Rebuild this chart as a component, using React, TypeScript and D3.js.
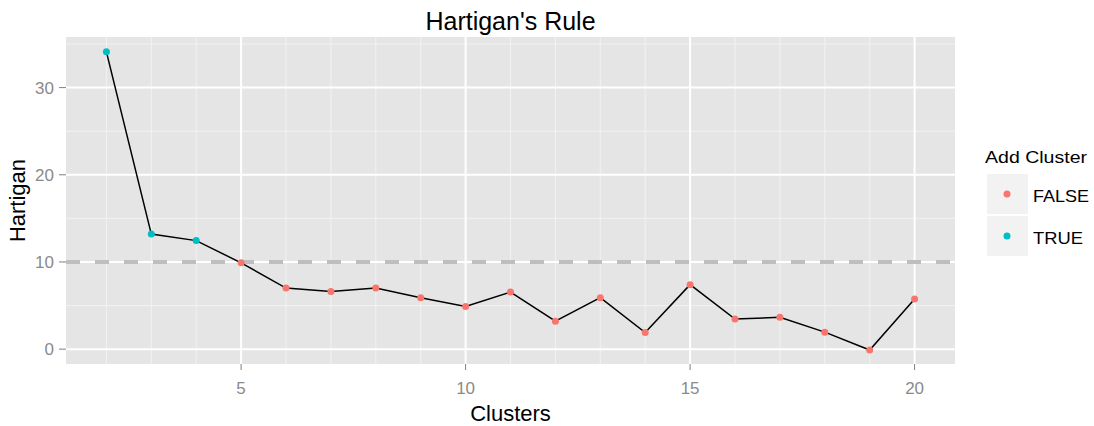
import React, { useEffect, useRef } from 'react';
import * as d3 from 'd3';

const clusters = [2, 3, 4, 5, 6, 7, 8, 9, 10, 11, 12, 13, 14, 15, 16, 17, 18, 19, 20];
const hartigan = [34.1, 13.2, 12.45, 9.9, 7.0, 6.6, 7.0, 5.9, 4.9, 6.55, 3.2, 5.9, 1.9, 7.4, 3.45, 3.65, 1.95, -0.1, 5.75];
const addCluster = [true, true, true, false, false, false, false, false, false, false, false, false, false, false, false, false, false, false, false];
const xTicks = [5, 10, 15, 20];
const yTicks = [0, 10, 20, 30];
const yMinor = [5, 15, 25, 35];
const threshold = 10;
const legendLabels = ['FALSE', 'TRUE'];

const W = 1094;
const H = 426;
const FONT = 'Liberation Sans, Arial, sans-serif';
const COLORS: Record<string, string> = { FALSE: '#F8766D', TRUE: '#00BFC4' };

const expand = (lo: number, hi: number): [number, number] => {
  const pad = (hi - lo) * 0.05;
  return [lo - pad, hi + pad];
};

export default function App() {
  const ref = useRef<SVGSVGElement>(null);

  useEffect(() => {
    if (!ref.current) return;
    const svg = d3.select(ref.current);
    svg.selectAll('*').remove();

    const left = 66, right = 955, top = 37, bottom = 364;
    const x = d3.scaleLinear()
      .domain(expand(d3.min(clusters)!, d3.max(clusters)!))
      .range([left, right]);
    const y = d3.scaleLinear()
      .domain(expand(0, d3.max(hartigan)!))
      .range([bottom, top]);

    // panel
    svg.append('rect')
      .attr('x', left).attr('y', top)
      .attr('width', right - left).attr('height', bottom - top)
      .attr('fill', '#E5E5E5');

    const g = svg.append('g');

    // minor grid
    g.selectAll('line.ym')
      .data(yMinor.filter((v) => y(v) >= top))
      .join('line')
      .attr('x1', left).attr('x2', right)
      .attr('y1', (d) => y(d)).attr('y2', (d) => y(d))
      .attr('stroke', '#F2F2F2').attr('stroke-width', 1);
    g.selectAll('line.xm')
      .data(clusters.filter((c) => !xTicks.includes(c)))
      .join('line')
      .attr('x1', (d) => x(d)).attr('x2', (d) => x(d))
      .attr('y1', top).attr('y2', bottom)
      .attr('stroke', '#F2F2F2').attr('stroke-width', 1);

    // major grid
    g.selectAll('line.yM')
      .data(yTicks)
      .join('line')
      .attr('x1', left).attr('x2', right)
      .attr('y1', (d) => y(d)).attr('y2', (d) => y(d))
      .attr('stroke', '#FFFFFF').attr('stroke-width', 2);
    g.selectAll('line.xM')
      .data(xTicks)
      .join('line')
      .attr('x1', (d) => x(d)).attr('x2', (d) => x(d))
      .attr('y1', top).attr('y2', bottom)
      .attr('stroke', '#FFFFFF').attr('stroke-width', 2);

    // threshold
    svg.append('line')
      .attr('x1', left).attr('x2', right)
      .attr('y1', y(threshold)).attr('y2', y(threshold))
      .attr('stroke', '#BEBEBE').attr('stroke-width', 4)
      .attr('stroke-dasharray', '14,15');

    // line
    const pts = clusters.map((c, i) => ({ c, v: hartigan[i], add: addCluster[i] }));
    const line = d3.line<{ c: number; v: number }>()
      .x((d) => x(d.c))
      .y((d) => y(d.v));
    svg.append('path')
      .datum(pts)
      .attr('d', line)
      .attr('fill', 'none')
      .attr('stroke', '#000')
      .attr('stroke-width', 1.5);

    svg.selectAll('circle.pt')
      .data(pts)
      .join('circle')
      .attr('cx', (d) => x(d.c))
      .attr('cy', (d) => y(d.v))
      .attr('r', 3.5)
      .attr('fill', (d) => COLORS[d.add ? 'TRUE' : 'FALSE']);

    // axes ticks
    svg.selectAll('line.yt')
      .data(yTicks)
      .join('line')
      .attr('x1', left - 7).attr('x2', left)
      .attr('y1', (d) => y(d)).attr('y2', (d) => y(d))
      .attr('stroke', '#7F7F7F').attr('stroke-width', 1);
    svg.selectAll('text.yt')
      .data(yTicks)
      .join('text')
      .attr('x', left - 12)
      .attr('y', (d) => y(d) + 6)
      .attr('text-anchor', 'end')
      .attr('font-family', FONT)
      .attr('font-size', 17)
      .attr('fill', '#8A8A8A')
      .text((d) => d);

    svg.selectAll('line.xt')
      .data(xTicks)
      .join('line')
      .attr('x1', (d) => x(d)).attr('x2', (d) => x(d))
      .attr('y1', bottom).attr('y2', bottom + 6)
      .attr('stroke', '#7F7F7F').attr('stroke-width', 1);
    svg.selectAll('text.xt')
      .data(xTicks)
      .join('text')
      .attr('x', (d) => x(d))
      .attr('y', bottom + 30)
      .attr('text-anchor', 'middle')
      .attr('font-family', FONT)
      .attr('font-size', 17)
      .attr('fill', '#8A8A8A')
      .text((d) => d);

    // titles
    const cx = (left + right) / 2;
    svg.append('text')
      .attr('x', cx).attr('y', 30)
      .attr('text-anchor', 'middle')
      .attr('font-family', FONT)
      .attr('font-size', 25)
      .attr('fill', '#000')
      .text("Hartigan's Rule");
    svg.append('text')
      .attr('x', cx).attr('y', 421)
      .attr('text-anchor', 'middle')
      .attr('font-family', FONT)
      .attr('font-size', 22)
      .attr('fill', '#000')
      .text('Clusters');
    svg.append('text')
      .attr('transform', `translate(25,${(top + bottom) / 2}) rotate(-90)`)
      .attr('text-anchor', 'middle')
      .attr('font-family', FONT)
      .attr('font-size', 22)
      .attr('fill', '#000')
      .text('Hartigan');

    // legend
    const lg = svg.append('g');
    lg.append('text')
      .attr('x', 985).attr('y', 163)
      .attr('font-family', FONT)
      .attr('font-size', 16)
      .attr('textLength', 102)
      .attr('lengthAdjust', 'spacingAndGlyphs')
      .attr('fill', '#000')
      .text('Add Cluster');
    legendLabels.forEach((lab, i) => {
      const ky = 174 + i * 42;
      lg.append('rect')
        .attr('x', 987).attr('y', ky)
        .attr('width', 41).attr('height', 40)
        .attr('fill', '#F2F2F2');
      lg.append('circle')
        .attr('cx', 1007).attr('cy', ky + 20)
        .attr('r', 3.5)
        .attr('fill', COLORS[lab]);
      lg.append('text')
        .attr('x', 1033).attr('y', ky + 28)
        .attr('font-family', FONT)
        .attr('font-size', 17)
        .attr('textLength', lab === 'FALSE' ? 56 : 50)
        .attr('lengthAdjust', 'spacingAndGlyphs')
        .attr('fill', '#000')
        .text(lab);
    });
  }, []);

  return (
    <div style={{ position: 'absolute', left: 0, top: 0 }}>
      <svg ref={ref} width={W} height={H} style={{ display: 'block', background: '#fff' }} />
    </div>
  );
}
